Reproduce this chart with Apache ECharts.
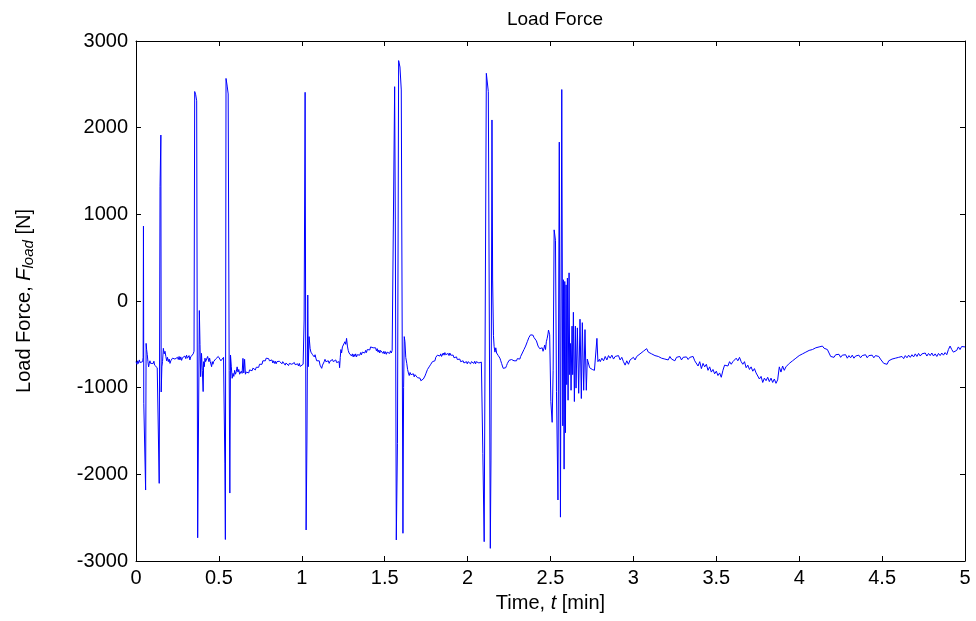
<!DOCTYPE html>
<html>
<head>
<meta charset="utf-8">
<script src="https://cdn.jsdelivr.net/npm/echarts@6/dist/echarts.min.js"></script>
<style>html,body{margin:0;padding:0;background:#fff}#c{width:976px;height:621px}</style>
</head>
<body>
<div id="c"></div>
<script>
// Tick labels
const xTicks = [0, 0.5, 1, 1.5, 2, 2.5, 3, 3.5, 4, 4.5, 5];
const yTicks = [-3000, -2000, -1000, 0, 1000, 2000, 3000];

// Load force samples [time (min), force (N)]
const seg0to1 = [
[0.000,-700],[0.006,-730],[0.010,-690],[0.015,-720],[0.020,-680],[0.025,-710],[0.030,-690],[0.036,-720],[0.040,-700],[0.043,-650],
[0.045,864],[0.047,-1180],[0.058,-2181],[0.061,-489],[0.064,-560],[0.068,-620],[0.072,-700],[0.076,-760],[0.080,-720],[0.084,-690],
[0.088,-720],[0.092,-700],[0.096,-730],[0.100,-705],[0.104,-720],[0.108,-695],[0.112,-740],[0.116,-720],[0.120,-750],[0.124,-730],
[0.128,-770],[0.132,-790],[0.136,-770],
[0.140,-2104],[0.145,1319],[0.150,1915],[0.152,-1050],[0.156,-760],
[0.160,-700],[0.165,-546],[0.170,-610],[0.175,-580],[0.180,-640],[0.185,-690],[0.190,-650],[0.195,-700],[0.200,-670],[0.205,-720],
[0.210,-690],[0.215,-710],[0.220,-660],[0.225,-680],[0.230,-640],[0.235,-670],[0.240,-655],[0.245,-690],[0.250,-650],[0.255,-675],
[0.260,-640],[0.265,-680],[0.270,-645],[0.275,-685],[0.280,-655],[0.285,-640],[0.290,-675],[0.295,-635],[0.300,-665],[0.305,-625],
[0.310,-660],[0.315,-670],[0.320,-630],[0.325,-680],[0.330,-645],[0.335,-665],[0.340,-630],[0.345,-610],[0.350,-580],
[0.354,2417],[0.360,2380],[0.366,2310],[0.372,-2732],[0.378,-2720],[0.382,-110],[0.386,-500],[0.390,-873],[0.395,-604],[0.400,-800],
[0.405,-1045],
[0.408,-700],[0.412,-758],[0.416,-660],[0.420,-700],[0.424,-680],[0.428,-720],[0.432,-640],[0.436,-623],[0.440,-700],[0.444,-660],
[0.448,-700],[0.452,-680],[0.456,-758],[0.460,-700],[0.464,-730],[0.468,-700],[0.472,-690],[0.476,-720],[0.480,-670],[0.484,-690],
[0.488,-650],[0.492,-670],[0.496,-640],[0.500,-660],[0.504,-630],[0.508,-660],[0.512,-690],[0.516,-670],[0.520,-700],[0.524,-680],
[0.528,-650],[0.532,-640],
[0.536,-1880],[0.539,-2752],[0.543,2568],[0.550,2480],[0.556,2389],[0.562,-800],[0.566,-2216],
[0.570,-623],[0.575,-760],[0.580,-892],[0.585,-835],[0.590,-870],[0.595,-800],[0.600,-845],[0.605,-815],[0.610,-760],[0.615,-820],
[0.620,-790],[0.625,-845],[0.630,-860],[0.635,-810],[0.640,-835],[0.645,-662],[0.650,-830],[0.655,-673],[0.660,-845],[0.665,-820],
[0.670,-840],[0.675,-800],[0.680,-830],[0.685,-795],[0.690,-815],[0.695,-780],[0.700,-805],[0.705,-775],[0.710,-790],[0.715,-760],
[0.720,-795],[0.725,-765],[0.730,-780],[0.735,-745],[0.740,-765],[0.745,-730],[0.750,-750],[0.755,-715],[0.760,-730],[0.765,-690],
[0.770,-705],[0.775,-675],[0.780,-690],[0.785,-660],[0.790,-680],[0.795,-645],[0.800,-665],[0.805,-690],[0.810,-675],[0.815,-710],
[0.820,-680],[0.825,-715],[0.830,-690],[0.835,-720],[0.840,-695],[0.845,-725],[0.850,-700],[0.855,-690],[0.860,-720],[0.865,-695],
[0.870,-715],[0.875,-690],[0.880,-725],[0.885,-700],[0.890,-720],[0.895,-705],[0.900,-740],[0.905,-715],[0.910,-735],[0.915,-710],
[0.920,-745],[0.925,-720],[0.930,-735],[0.935,-705],[0.940,-730],[0.945,-715],[0.950,-740],[0.955,-710],[0.960,-735],[0.965,-715],
[0.970,-745],[0.975,-725],[0.980,-750],[0.985,-720],[0.990,-755],[0.995,-735]
];
const seg1to2 = [
[1.000,-740],[1.008,-730],[1.014,-219],[1.020,2408],[1.026,-2642],[1.031,-1604],[1.036,69],[1.039,-758],[1.044,-411],
[1.050,-546],[1.055,-590],[1.060,-570],[1.065,-620],[1.070,-600],[1.075,-645],[1.080,-620],[1.085,-660],[1.090,-690],[1.095,-670],
[1.100,-710],[1.105,-690],[1.110,-740],[1.115,-720],[1.120,-777],[1.125,-740],[1.130,-720],[1.135,-700],[1.140,-673],[1.145,-700],
[1.150,-685],[1.155,-715],[1.160,-690],[1.165,-720],[1.170,-695],[1.175,-680],[1.180,-705],[1.185,-675],[1.190,-700],[1.195,-680],
[1.200,-705],[1.205,-680],[1.210,-710],[1.215,-690],[1.220,-725],[1.225,-700],[1.228,-770],[1.232,-650],[1.236,-560],[1.240,-600],
[1.245,-530],[1.250,-508],[1.255,-540],[1.260,-470],[1.265,-500],[1.270,-431],[1.275,-520],[1.280,-570],[1.285,-600],[1.290,-620],
[1.295,-600],[1.300,-635],[1.305,-610],[1.310,-645],[1.315,-615],[1.320,-640],[1.325,-610],[1.330,-645],[1.335,-620],[1.340,-630],
[1.345,-600],[1.350,-625],[1.355,-595],[1.360,-620],[1.365,-590],[1.370,-610],[1.375,-580],[1.380,-600],[1.385,-570],[1.390,-595],
[1.395,-560],[1.400,-580],[1.405,-545],[1.410,-565],[1.415,-530],[1.420,-550],[1.425,-515],[1.430,-540],[1.435,-520],[1.440,-560],
[1.445,-540],[1.450,-575],[1.455,-550],[1.460,-590],[1.465,-565],[1.470,-600],[1.475,-570],[1.480,-590],[1.485,-565],[1.490,-605],
[1.495,-580],[1.500,-610],[1.505,-585],[1.510,-615],[1.515,-590],[1.520,-610],[1.525,-585],[1.530,-605],[1.535,-575],[1.540,-600],
[1.545,-570],[1.550,-590],[1.556,-580],
[1.560,2473],[1.564,935],[1.570,-2757],[1.577,-1642],[1.584,2774],[1.592,2700],[1.600,2435],[1.610,-2680],[1.614,-1000],[1.618,-411],
[1.622,-469],
[1.627,-650],[1.633,-719],[1.638,-790],[1.643,-830],[1.648,-860],[1.653,-825],[1.658,-850],[1.663,-830],[1.668,-860],[1.673,-840],
[1.678,-875],[1.683,-850],[1.688,-865],[1.693,-850],[1.698,-885],[1.703,-870],[1.708,-900],[1.713,-890],[1.718,-920],[1.723,-905],
[1.728,-925],[1.733,-900],[1.738,-880],[1.743,-865],[1.748,-840],[1.753,-820],[1.758,-790],[1.763,-800],[1.768,-760],[1.773,-770],
[1.778,-730],[1.783,-740],[1.788,-700],[1.793,-715],[1.798,-680],[1.803,-690],[1.808,-650],[1.813,-660],[1.818,-625],[1.823,-640],
[1.828,-615],[1.833,-635],[1.838,-610],[1.843,-640],[1.848,-620],[1.853,-600],[1.858,-625],[1.863,-595],[1.868,-620],[1.873,-600],
[1.878,-625],[1.883,-605],[1.888,-630],[1.893,-600],[1.898,-625],[1.903,-610],[1.908,-640],[1.913,-625],[1.918,-655],[1.923,-640],
[1.928,-665],[1.933,-645],[1.938,-675],[1.943,-660],[1.948,-690],[1.953,-670],[1.958,-700],[1.963,-680],[1.968,-710],[1.973,-690],
[1.978,-715],[1.983,-695],[1.988,-720],[1.993,-700],[1.998,-725]
];
const seg2to3 = [
[2.003,-700],[2.008,-720],[2.013,-695],[2.018,-725],[2.023,-700],[2.028,-715],[2.033,-690],[2.038,-720],[2.043,-695],[2.048,-725],
[2.053,-700],[2.058,-720],[2.063,-690],[2.068,-715],[2.073,-700],[2.078,-725],[2.083,-705],[2.088,-700],
[2.092,-1758],[2.100,-2777],[2.113,2627],[2.125,2416],[2.137,-2854],[2.141,-1835],[2.147,2089],[2.151,242],
[2.156,-400],[2.160,-527],[2.165,-590],[2.170,-540],[2.175,-600],[2.180,-580],[2.185,-630],[2.190,-610],[2.195,-660],[2.200,-690],
[2.205,-720],[2.210,-750],[2.215,-777],[2.220,-760],[2.225,-795],[2.230,-770],[2.235,-745],[2.240,-720],[2.245,-700],[2.250,-685],
[2.255,-662],[2.260,-700],[2.265,-675],[2.270,-695],[2.275,-660],[2.280,-690],[2.285,-705],[2.290,-675],[2.295,-690],[2.300,-665],
[2.305,-685],[2.310,-660],[2.315,-670],[2.320,-640],[2.325,-625],[2.330,-600],[2.335,-590],[2.340,-560],[2.345,-545],[2.350,-520],
[2.355,-508],[2.360,-470],[2.365,-450],[2.370,-420],[2.375,-400],[2.380,-390],[2.385,-381],[2.390,-410],[2.395,-395],[2.400,-420],
[2.405,-440],[2.410,-425],[2.415,-460],[2.420,-480],[2.425,-520],[2.430,-500],[2.435,-550],[2.440,-530],[2.445,-560],[2.450,-540],
[2.455,-580],[2.460,-550],[2.465,-508],[2.470,-560],[2.475,-470],[2.480,-430],[2.485,-380],[2.488,-335],[2.495,-390],
[2.502,-1160],[2.510,-1400],[2.516,-800],[2.522,821],[2.530,700],[2.536,-1045],[2.545,-2296],[2.553,1833],[2.560,-2494],[2.568,2440],
[2.574,-1440],[2.578,245],[2.582,-1940],[2.586,225],[2.590,-1520],[2.594,186],[2.598,-965],[2.602,265],[2.606,-1145],[2.612,325],
[2.616,-850],[2.620,-490],[2.624,-1030],[2.630,-290],[2.634,-850],[2.638,-130],[2.644,-1160],[2.650,-290],[2.654,-1005],[2.662,-310],
[2.670,-1065],[2.678,-210],[2.686,-1125],[2.692,-250],[2.700,-1030],[2.708,-330],[2.716,-1030],[2.722,-670],[2.736,-770],[2.752,-790],
[2.765,-800],[2.775,-796],[2.780,-431],[2.786,-700],[2.795,-673],
[2.80,-700],[2.81,-660],[2.82,-690],[2.83,-640],[2.84,-680],[2.85,-630],[2.86,-660],[2.87,-625],[2.88,-670],[2.89,-640],
[2.90,-660],[2.91,-630],[2.92,-680],[2.93,-650],[2.94,-700],[2.95,-740],[2.96,-690],[2.97,-730],[2.98,-680],[2.99,-700]
];
const seg3to4 = [
[3.00,-650],[3.01,-680],[3.02,-640],[3.03,-660],[3.04,-610],[3.05,-630],[3.06,-580],[3.07,-600],[3.08,-550],[3.09,-590],
[3.10,-570],[3.11,-610],[3.12,-590],[3.13,-630],[3.14,-610],[3.15,-640],[3.16,-620],[3.17,-660],[3.18,-640],[3.19,-670],
[3.20,-650],[3.21,-680],[3.22,-640],[3.23,-670],[3.24,-650],[3.25,-690],[3.26,-650],[3.27,-670],[3.28,-640],[3.29,-680],
[3.30,-650],[3.31,-670],[3.32,-645],[3.33,-675],[3.34,-650],[3.35,-665],[3.36,-640],[3.37,-690],[3.38,-700],[3.39,-750],
[3.40,-700],[3.41,-780],[3.42,-720],[3.43,-760],[3.44,-730],[3.45,-800],[3.46,-760],[3.47,-820],[3.48,-790],[3.49,-840],
[3.50,-810],[3.51,-860],[3.52,-830],[3.53,-880],[3.54,-800],[3.55,-740],[3.56,-720],[3.57,-750],[3.58,-700],[3.59,-730],
[3.60,-700],[3.61,-690],[3.62,-660],[3.63,-690],[3.64,-650],[3.65,-700],[3.66,-730],[3.67,-700],[3.68,-770],[3.69,-740],
[3.70,-790],[3.71,-760],[3.72,-810],[3.73,-780],[3.74,-830],[3.75,-850],[3.76,-900],[3.77,-870],[3.78,-940],[3.79,-890],
[3.80,-920],[3.81,-880],[3.82,-930],[3.83,-890],[3.84,-940],[3.85,-900],[3.86,-950],[3.87,-910],[3.88,-760],[3.89,-820],
[3.90,-750],[3.91,-800],[3.92,-760],[3.93,-780],[3.94,-720],[3.95,-740],[3.96,-690],[3.97,-700],[3.98,-660],[3.99,-670]
];
const seg4to5 = [
[4.00,-630],[4.01,-650],[4.02,-610],[4.03,-620],[4.04,-590],[4.05,-600],[4.06,-570],[4.07,-590],[4.08,-560],[4.09,-570],
[4.10,-540],[4.11,-560],[4.12,-530],[4.13,-550],[4.14,-520],[4.15,-545],[4.16,-530],[4.17,-560],[4.18,-600],[4.19,-640],
[4.20,-620],[4.21,-650],[4.22,-620],[4.23,-640],[4.24,-615],[4.25,-650],[4.26,-625],[4.27,-645],[4.28,-620],[4.29,-660],
[4.30,-630],[4.31,-655],[4.32,-625],[4.33,-660],[4.34,-635],[4.35,-650],[4.36,-625],[4.37,-655],[4.38,-630],[4.39,-650],
[4.40,-620],[4.41,-655],[4.42,-630],[4.43,-650],[4.44,-625],[4.45,-655],[4.46,-630],[4.47,-650],[4.48,-640],[4.49,-670],
[4.50,-690],[4.51,-720],[4.52,-700],[4.53,-730],[4.54,-690],[4.55,-710],[4.56,-670],[4.57,-690],[4.58,-660],[4.59,-680],
[4.60,-650],[4.61,-670],[4.62,-640],[4.63,-665],[4.64,-630],[4.65,-655],[4.66,-625],[4.67,-650],[4.68,-620],[4.69,-645],
[4.70,-610],[4.71,-640],[4.72,-605],[4.73,-635],[4.74,-610],[4.75,-630],[4.76,-600],[4.77,-635],[4.78,-605],[4.79,-630],
[4.80,-600],[4.81,-635],[4.82,-610],[4.83,-640],[4.84,-605],[4.85,-630],[4.86,-600],[4.87,-625],[4.88,-595],[4.89,-620],
[4.90,-560],[4.91,-520],[4.92,-560],[4.93,-590],[4.94,-610],[4.95,-570],[4.96,-530],[4.97,-560],[4.98,-525],[4.99,-545],
[5.00,-530]
];

const samples = [].concat(seg0to1, seg1to2, seg2to3, seg3to4, seg4to5);

const FONT = 'Liberation Sans';
const FS = 20;

const baseAxis = {
  type: 'value',
  axisLine: { show: true, onZero: false, lineStyle: { color: '#000', width: 1 } },
  axisTick: { show: true, inside: true, length: 5, lineStyle: { color: '#000', width: 1 } },
  splitLine: { show: false },
  axisLabel: { color: '#000', fontFamily: FONT, fontSize: FS }
};

const chart = echarts.init(document.getElementById('c'), null, { renderer: 'canvas' });
chart.setOption({
  animation: false,
  backgroundColor: '#ffffff',
  title: {
    text: 'Load Force', left: 550, top: 5, textAlign: 'center',
    textStyle: { fontFamily: FONT, fontSize: 19, fontWeight: 'normal', color: '#000' }
  },
  grid: { left: 136, right: 11, top: 41, bottom: 60 },
  xAxis: [
    Object.assign({}, baseAxis, {
      position: 'bottom', min: xTicks[0], max: xTicks[xTicks.length - 1], interval: 0.5,
      axisLabel: Object.assign({}, baseAxis.axisLabel, { margin: 7, formatter: v => String(v) }),
      name: 'Time, {i|t} [min]', nameLocation: 'middle', nameGap: 32,
      nameTextStyle: { color: '#000', fontFamily: FONT, fontSize: FS,
        rich: { i: { fontStyle: 'italic', fontFamily: FONT, fontSize: FS, color: '#000' } } }
    }),
    Object.assign({}, baseAxis, {
      position: 'top', min: 0, max: 5, interval: 0.5, axisLabel: { show: false }
    })
  ],
  yAxis: [
    Object.assign({}, baseAxis, {
      position: 'left', min: yTicks[0], max: yTicks[yTicks.length - 1], interval: 1000,
      axisLabel: Object.assign({}, baseAxis.axisLabel, { margin: 8, formatter: v => String(v) }),
      name: 'Load Force, {i|F}{s|load} [N]', nameLocation: 'middle', nameGap: 100, nameRotate: 90,
      nameTextStyle: { color: '#000', fontFamily: FONT, fontSize: FS, lineHeight: 24,
        rich: {
          i: { fontStyle: 'italic', fontFamily: FONT, fontSize: FS, lineHeight: 24, color: '#000' },
          s: { fontStyle: 'italic', fontFamily: FONT, fontSize: 15, verticalAlign: 'bottom', color: '#000' }
        } }
    }),
    Object.assign({}, baseAxis, {
      position: 'right', min: -3000, max: 3000, interval: 1000, axisLabel: { show: false }
    })
  ],
  series: [{
    type: 'line',
    data: samples,
    showSymbol: false,
    symbol: 'none',
    sampling: null,
    lineStyle: { color: '#0000ff', width: 1 },
    itemStyle: { color: '#0000ff' },
    silent: true
  }]
});
</script>
</body>
</html>
